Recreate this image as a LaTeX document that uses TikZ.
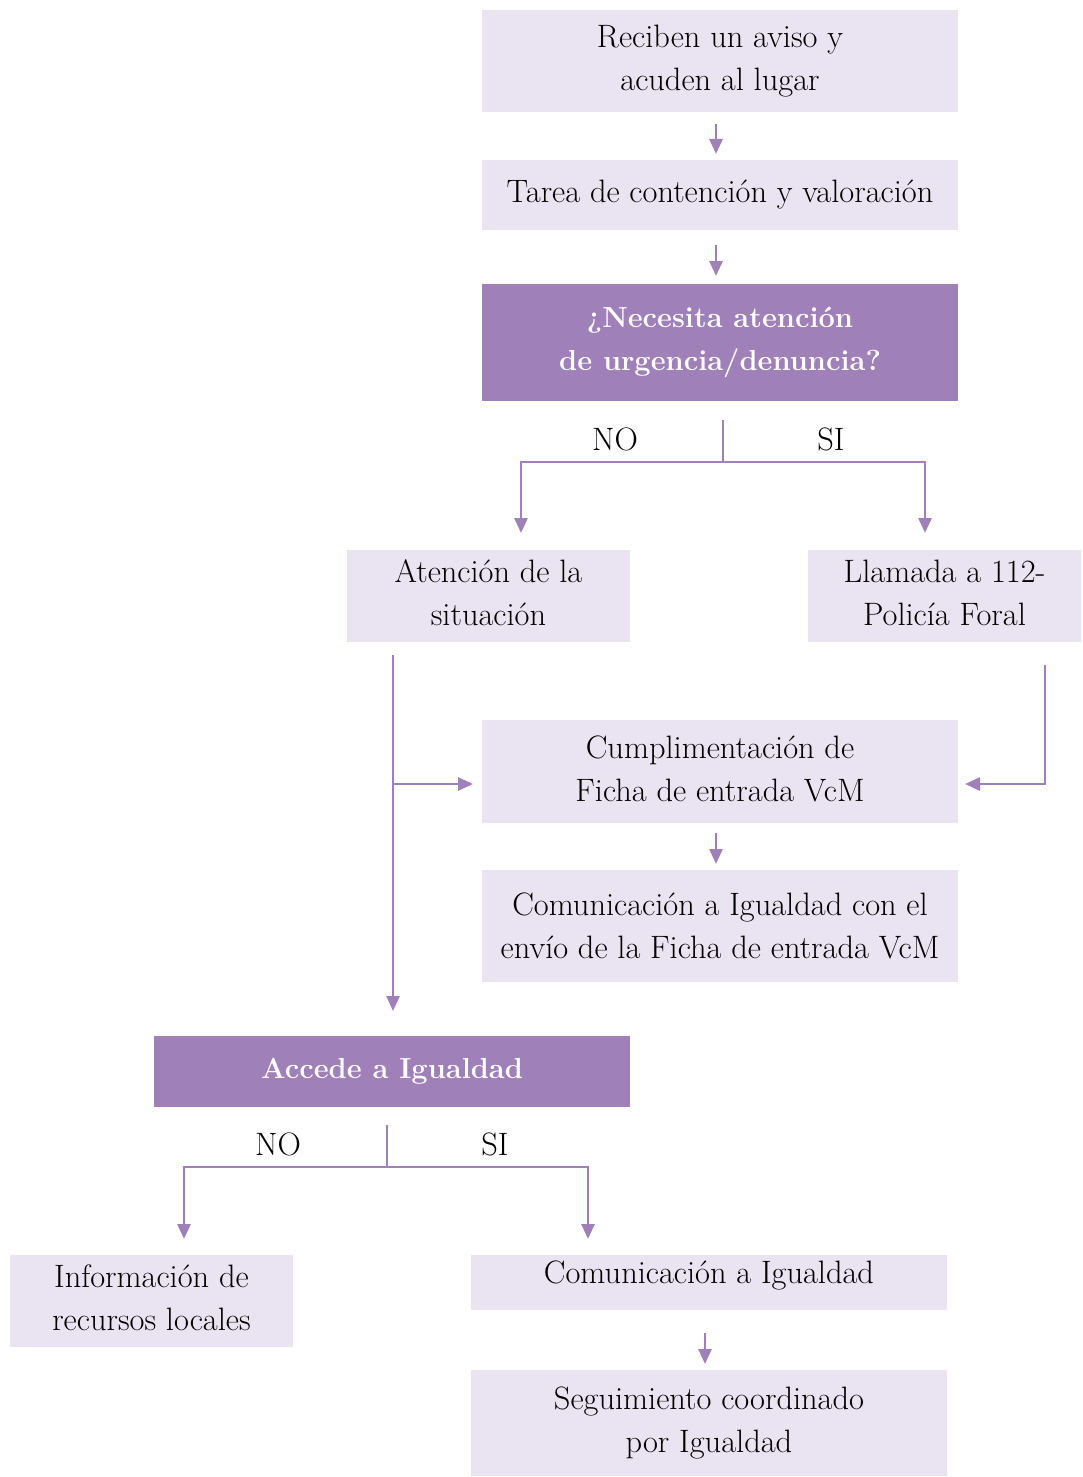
\documentclass[tikz,border=0pt]{standalone}
\usetikzlibrary{arrows.meta}
\definecolor{dark}{HTML}{9F80B8}
\definecolor{light}{HTML}{EAE3F2}
\begin{document}
\begin{tikzpicture}[x=0.5pt,y=-0.5pt,
  box/.style={fill=light,inner sep=0pt,align=center,font=\fontsize{16.2}{21.5}\selectfont,text=black},
  dbox/.style={fill=dark,inner sep=0pt,align=center,font=\fontsize{14.5}{21.5}\selectfont\bfseries,text=white},
  arr/.style={draw=dark,line width=1.4pt,-{Triangle[width=6.5pt,length=7.5pt]}},
  ln/.style={draw=dark,line width=1.4pt},
  lab/.style={font=\fontsize{16.2}{17}\selectfont,inner sep=0pt}]
\useasboundingbox (0,0) rectangle (1082,1477);
% nodes
\node[box,minimum width=238pt,minimum height=51pt] (n1) at (720,61) {Reciben un aviso y\\acuden al lugar\vphantom{p}};
\node[box,minimum width=238pt,minimum height=35pt] (n2) at (720,195) {Tarea de contención y valoración};
\node[dbox,minimum width=238pt,minimum height=58.5pt] (n3) at (720,342.5) {¿Necesita atención\\de urgencia/denuncia?};
\node[box,minimum width=141.5pt,minimum height=46pt] (n4) at (488.5,596) {Atención de la\\situación\vphantom{p}};
\node[box,minimum width=136.5pt,minimum height=46pt] (n5) at (944.5,596) {Llamada a 112-\\Policía Foral\vphantom{p}};
\node[box,minimum width=238pt,minimum height=51.5pt] (n6) at (720,771.5) {Cumplimentación de\\Ficha de entrada VcM\vphantom{p}};
\node[box,minimum width=238pt,minimum height=56pt] (n7) at (720,926) {Comunicación a Igualdad con el\\envío de la Ficha de entrada VcM};
\node[dbox,minimum width=238pt,minimum height=35.5pt] (n8) at (392,1071.5) {Accede a Igualdad};
\node[box,minimum width=141.5pt,minimum height=46pt] (n9) at (151.5,1301) {Información de\\recursos locales\vphantom{p}};
\node[box,minimum width=238pt,minimum height=27.5pt] (n10) at (709,1282.5) {};
\node[lab] (n10t) at (709,1275) {Comunicación a Igualdad};
\node[box,minimum width=238pt,minimum height=53pt] (n11) at (709,1423) {Seguimiento coordinado\\por Igualdad};
% labels
\node[lab] (no1) at (615,439) {NO};
\node[lab] (si1) at (831,439) {SI};
\node[lab] (no2) at (278,1144) {NO};
\node[lab] (si2) at (495,1144) {SI};
% coordinates
\coordinate (a1s) at (716,124); \coordinate (a1e) at (716,154);
\coordinate (a2s) at (716,245); \coordinate (a2e) at (716,276);
\coordinate (b1) at (723,420); \coordinate (b1m) at (723,462);
\coordinate (b1l) at (521,462); \coordinate (b1le) at (521,533);
\coordinate (b1r) at (925,462); \coordinate (b1re) at (925,533);
\coordinate (ls) at (393,655); \coordinate (le) at (393,1011);
\coordinate (lm) at (393,784); \coordinate (lme) at (473,784);
\coordinate (rs) at (1045,665); \coordinate (rm) at (1045,784); \coordinate (rme) at (965,784);
\coordinate (a3s) at (716,833); \coordinate (a3e) at (716,864);
\coordinate (b2) at (387,1125); \coordinate (b2m) at (387,1167);
\coordinate (b2l) at (184,1167); \coordinate (b2le) at (184,1239);
\coordinate (b2r) at (588,1167); \coordinate (b2re) at (588,1239);
\coordinate (a4s) at (705,1333); \coordinate (a4e) at (705,1364);
% connectors
\draw[arr] (a1s) -- (a1e);
\draw[arr] (a2s) -- (a2e);
\draw[ln] (b1) -- (b1m);
\draw[arr] (b1m) -- (b1l) -- (b1le);
\draw[arr] (b1m) -- (b1r) -- (b1re);
\draw[arr] (ls) -- (le);
\draw[arr] (lm) -- (lme);
\draw[arr] (rs) -- (rm) -- (rme);
\draw[arr] (a3s) -- (a3e);
\draw[ln] (b2) -- (b2m);
\draw[arr] (b2m) -- (b2l) -- (b2le);
\draw[arr] (b2m) -- (b2r) -- (b2re);
\draw[arr] (a4s) -- (a4e);
\end{tikzpicture}
\end{document}
